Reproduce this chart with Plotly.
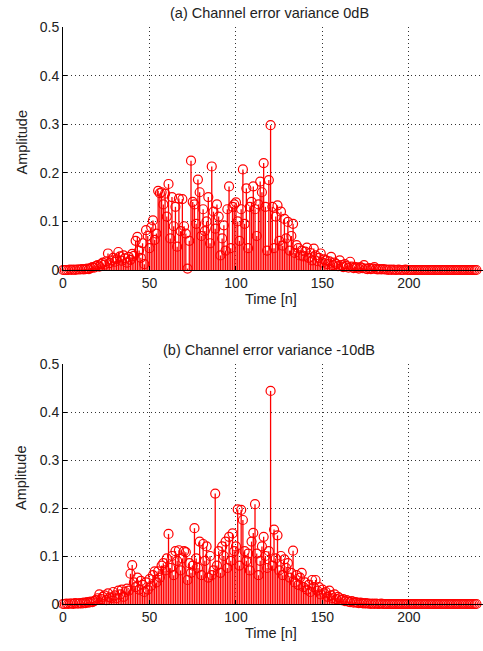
import plotly.graph_objects as go

n = list(range(240))

amp_0db = [
    0.000, 0.000, 0.000, 0.000, 0.001, 0.000, 0.001, 0.000, 0.001, 0.001,
    0.001, 0.002, 0.001, 0.002, 0.003, 0.002, 0.004, 0.006, 0.005, 0.008,
    0.010, 0.007, 0.012, 0.015, 0.011, 0.018, 0.034, 0.014, 0.020, 0.025,
    0.017, 0.022, 0.037, 0.028, 0.019, 0.030, 0.024, 0.015, 0.027, 0.021,
    0.033, 0.029, 0.060, 0.068, 0.040, 0.025, 0.055, 0.012, 0.082, 0.070,
    0.045, 0.088, 0.102, 0.062, 0.075, 0.163, 0.158, 0.160, 0.135, 0.157,
    0.110, 0.177, 0.065, 0.150, 0.090, 0.130, 0.048, 0.147, 0.080, 0.146,
    0.090, 0.075, 0.003, 0.060, 0.225, 0.140, 0.135, 0.095, 0.186, 0.160,
    0.070, 0.125, 0.080, 0.100, 0.150, 0.055, 0.213, 0.120, 0.085, 0.135,
    0.110, 0.030, 0.065, 0.092, 0.040, 0.125, 0.172, 0.045, 0.130, 0.135,
    0.139, 0.100, 0.060, 0.125, 0.207, 0.095, 0.168, 0.045, 0.130, 0.140,
    0.172, 0.125, 0.070, 0.135, 0.182, 0.160, 0.220, 0.130, 0.040, 0.185,
    0.298, 0.130, 0.045, 0.110, 0.133, 0.060, 0.120, 0.050, 0.105, 0.065,
    0.099, 0.040, 0.070, 0.095, 0.035, 0.051, 0.045, 0.030, 0.040, 0.028,
    0.038, 0.046, 0.025, 0.035, 0.020, 0.044, 0.030, 0.018, 0.025, 0.034,
    0.015, 0.022, 0.020, 0.012, 0.018, 0.027, 0.010, 0.015, 0.012, 0.008,
    0.020, 0.010, 0.006, 0.012, 0.008, 0.005, 0.017, 0.007, 0.004, 0.006,
    0.005, 0.003, 0.006, 0.004, 0.010, 0.003, 0.002, 0.004, 0.002, 0.003,
    0.006, 0.002, 0.001, 0.002, 0.001, 0.002, 0.001, 0.001, 0.000, 0.001,
    0.000, 0.001, 0.000, 0.000, 0.001, 0.000, 0.000, 0.000, 0.001, 0.000,
    0.000, 0.000, 0.000, 0.000, 0.000, 0.000, 0.000, 0.000, 0.000, 0.000,
    0.000, 0.000, 0.000, 0.000, 0.000, 0.000, 0.000, 0.000, 0.000, 0.000,
    0.000, 0.000, 0.000, 0.000, 0.000, 0.000, 0.000, 0.000, 0.000, 0.000,
    0.000, 0.000, 0.000, 0.000, 0.000, 0.000, 0.000, 0.000, 0.000, 0.000,
]

amp_m10db = [
    0.000, 0.000, 0.001, 0.000, 0.001, 0.001, 0.000, 0.002, 0.001, 0.001,
    0.002, 0.001, 0.003, 0.002, 0.004, 0.003, 0.005, 0.004, 0.006, 0.008,
    0.012, 0.020, 0.010, 0.015, 0.018, 0.008, 0.022, 0.014, 0.012, 0.025,
    0.018, 0.012, 0.028, 0.020, 0.030, 0.015, 0.025, 0.032, 0.028, 0.063,
    0.081, 0.045, 0.035, 0.055, 0.030, 0.048, 0.040, 0.025, 0.045, 0.030,
    0.052, 0.038, 0.060, 0.068, 0.045, 0.068, 0.055, 0.080, 0.085, 0.070,
    0.095, 0.146, 0.075, 0.100, 0.060, 0.110, 0.090, 0.112, 0.070, 0.095,
    0.110, 0.108, 0.050, 0.085, 0.065, 0.080, 0.158, 0.095, 0.075, 0.130,
    0.060, 0.125, 0.090, 0.120, 0.055, 0.100, 0.060, 0.070, 0.230, 0.080,
    0.110, 0.065, 0.120, 0.100, 0.130, 0.075, 0.140, 0.090, 0.147, 0.110,
    0.120, 0.197, 0.080, 0.196, 0.175, 0.110, 0.090, 0.105, 0.070, 0.130,
    0.148, 0.208, 0.105, 0.060, 0.090, 0.120, 0.140, 0.100, 0.075, 0.110,
    0.444, 0.080, 0.155, 0.095, 0.143, 0.070, 0.100, 0.060, 0.093, 0.075,
    0.085, 0.055, 0.065, 0.111, 0.045, 0.060, 0.040, 0.055, 0.065, 0.035,
    0.045, 0.030, 0.040, 0.025, 0.050, 0.035, 0.050, 0.028, 0.035, 0.020,
    0.030, 0.022, 0.025, 0.015, 0.028, 0.018, 0.012, 0.020, 0.010, 0.015,
    0.012, 0.008, 0.010, 0.006, 0.008, 0.005, 0.004, 0.006, 0.003, 0.004,
    0.003, 0.002, 0.003, 0.002, 0.001, 0.002, 0.001, 0.001, 0.000, 0.001,
    0.000, 0.001, 0.000, 0.000, 0.001, 0.000, 0.000, 0.000, 0.000, 0.000,
    0.000, 0.000, 0.000, 0.000, 0.000, 0.000, 0.000, 0.000, 0.000, 0.000,
    0.000, 0.000, 0.000, 0.000, 0.000, 0.000, 0.000, 0.000, 0.000, 0.000,
    0.000, 0.000, 0.000, 0.000, 0.000, 0.000, 0.000, 0.000, 0.000, 0.000,
    0.000, 0.000, 0.000, 0.000, 0.000, 0.000, 0.000, 0.000, 0.000, 0.000,
    0.000, 0.000, 0.000, 0.000, 0.000, 0.000, 0.000, 0.000, 0.000, 0.000,
]

titles = ["(a) Channel error variance 0dB", "(b) Channel error variance -10dB"]
x_ticks = [0, 50, 100, 150, 200]
y_ticks = [0, 0.1, 0.2, 0.3, 0.4, 0.5]
y_ticklabels = ["0", "0.1", "0.2", "0.3", "0.4", "0.5"]
x_label = "Time [n]"
y_label = "Amplitude"

W, H = 483, 651
RED = "#ff0000"
FONT = "Liberation Sans"
TXT = "#222222"

fig = go.Figure()


def add_stem(values, xa, ya):
    sx, sy = [], []
    for xi, v in zip(n, values):
        sx += [xi, xi, None]
        sy += [0, v, None]
    fig.add_trace(go.Scatter(x=sx, y=sy, mode="lines", xaxis=xa, yaxis=ya,
                             line=dict(color=RED, width=1.3), hoverinfo="skip",
                             showlegend=False, cliponaxis=False))
    fig.add_trace(go.Scatter(x=n, y=values, mode="markers", xaxis=xa, yaxis=ya,
                             marker=dict(symbol="circle-open", size=9, color=RED,
                                         line=dict(width=1.2, color=RED)),
                             showlegend=False, cliponaxis=False))


add_stem(amp_0db, "x", "y")
add_stem(amp_m10db, "x2", "y2")

# plot areas in page pixels (top, bottom)
top_px = (27, 270)
bot_px = (364, 604)
left_px = 63


def dom(px):
    return [1 - px[1] / H, 1 - px[0] / H]


axis_common = dict(showgrid=True, gridcolor="#333333", gridwidth=1, griddash="1px,3px",
                   showline=True, linecolor="black", linewidth=1, mirror=False,
                   ticks="inside", ticklen=4, tickcolor="black", zeroline=False,
                   automargin=False,
                   tickfont=dict(family=FONT, size=14, color=TXT))

fig.update_layout(
    width=W, height=H,
    margin=dict(l=left_px, r=0, t=0, b=0, autoexpand=False),
    paper_bgcolor="white", plot_bgcolor="white",
    xaxis=dict(domain=[0, 1], range=[0, 242.8], tickvals=x_ticks, anchor="y", **axis_common),
    yaxis=dict(domain=dom(top_px), range=[0, 0.5], tickvals=y_ticks, ticktext=y_ticklabels,
               anchor="x", **axis_common),
    xaxis2=dict(domain=[0, 1], range=[0, 242.8], tickvals=x_ticks, anchor="y2", **axis_common),
    yaxis2=dict(domain=dom(bot_px), range=[0, 0.5], tickvals=y_ticks, ticktext=y_ticklabels,
                anchor="x2", **axis_common),
)

ann = []
pw = W - left_px


def px_x(p):
    return (p - left_px) / pw


def px_y(p):
    return 1 - p / H


for title, (t, b) in zip(titles, [top_px, bot_px]):
    ann.append(dict(text=title, xref="paper", yref="paper", x=px_x(269), y=px_y(t - 14),
                    xanchor="center", yanchor="middle", showarrow=False,
                    font=dict(family=FONT, size=14.5, color=TXT)))
    ann.append(dict(text=x_label, xref="paper", yref="paper", x=px_x(271), y=px_y(b + 29),
                    xanchor="center", yanchor="middle", showarrow=False,
                    font=dict(family=FONT, size=14.5, color=TXT)))
    ann.append(dict(text=y_label, xref="paper", yref="paper", x=px_x(21),
                    y=px_y((t + b) / 2 - 6), textangle=-90,
                    xanchor="center", yanchor="middle", showarrow=False,
                    font=dict(family=FONT, size=14.5, color=TXT)))
fig.update_layout(annotations=ann)

fig.write_html("out.html", config={"displayModeBar": False},
               post_script="document.body.style.margin='0';document.body.style.overflow='hidden';")
